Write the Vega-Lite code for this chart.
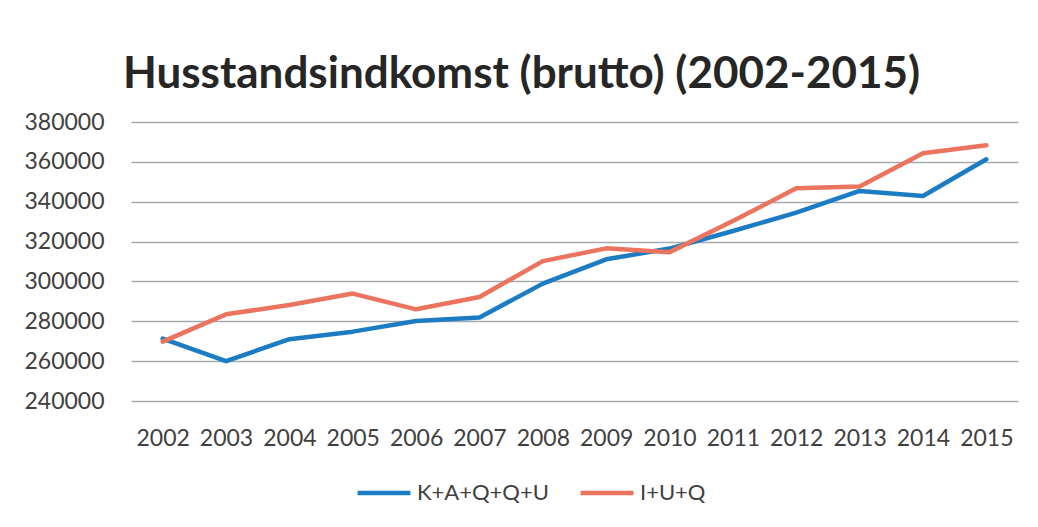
{
  "$schema": "https://vega.github.io/schema/vega-lite/v6.json",
  "width": 887,
  "height": 279,
  "autosize": {"type": "none"},
  "padding": {"left": 131, "top": 122, "right": 20, "bottom": 126},
  "background": "white",
  "title": {
    "text": "Husstandsindkomst (brutto) (2002-2015)",
    "font": "Lato",
    "fontSize": 44,
    "fontWeight": "bold",
    "color": "#262626",
    "anchor": "middle",
    "frame": "group",
    "dx": -53,
    "baseline": "bottom",
    "offset": 4,
    "dy": 34
  },
  "data": {
    "values": [
      {"year": "2002", "series": "K+A+Q+Q+U", "value": 271300},
      {"year": "2003", "series": "K+A+Q+Q+U", "value": 260000},
      {"year": "2004", "series": "K+A+Q+Q+U", "value": 271000},
      {"year": "2005", "series": "K+A+Q+Q+U", "value": 274800},
      {"year": "2006", "series": "K+A+Q+Q+U", "value": 280100},
      {"year": "2007", "series": "K+A+Q+Q+U", "value": 281900},
      {"year": "2008", "series": "K+A+Q+Q+U", "value": 298900},
      {"year": "2009", "series": "K+A+Q+Q+U", "value": 311100},
      {"year": "2010", "series": "K+A+Q+Q+U", "value": 316500},
      {"year": "2011", "series": "K+A+Q+Q+U", "value": 325300},
      {"year": "2012", "series": "K+A+Q+Q+U", "value": 334500},
      {"year": "2013", "series": "K+A+Q+Q+U", "value": 345400},
      {"year": "2014", "series": "K+A+Q+Q+U", "value": 342900},
      {"year": "2015", "series": "K+A+Q+Q+U", "value": 361300},
      {"year": "2002", "series": "I+U+Q", "value": 269800},
      {"year": "2003", "series": "I+U+Q", "value": 283500},
      {"year": "2004", "series": "I+U+Q", "value": 288200},
      {"year": "2005", "series": "I+U+Q", "value": 293900},
      {"year": "2006", "series": "I+U+Q", "value": 286000},
      {"year": "2007", "series": "I+U+Q", "value": 292200},
      {"year": "2008", "series": "I+U+Q", "value": 310200},
      {"year": "2009", "series": "I+U+Q", "value": 316600},
      {"year": "2010", "series": "I+U+Q", "value": 314700},
      {"year": "2011", "series": "I+U+Q", "value": 330300},
      {"year": "2012", "series": "I+U+Q", "value": 346700},
      {"year": "2013", "series": "I+U+Q", "value": 347600},
      {"year": "2014", "series": "I+U+Q", "value": 364300},
      {"year": "2015", "series": "I+U+Q", "value": 368300}
    ]
  },
  "mark": {"type": "line", "strokeWidth": 4.5, "strokeJoin": "round", "strokeCap": "round"},
  "encoding": {
    "x": {
      "field": "year",
      "type": "ordinal",
      "scale": {"type": "point", "padding": 0.5},
      "axis": {
        "title": null,
        "domain": false,
        "ticks": false,
        "grid": false,
        "labelAngle": 0,
        "labelFont": "Lato",
        "labelFontSize": 23,
        "labelColor": "#404040",
        "labelPadding": 26
      }
    },
    "y": {
      "field": "value",
      "type": "quantitative",
      "scale": {"domain": [240000, 380000], "nice": false, "zero": false},
      "axis": {
        "title": null,
        "domain": false,
        "ticks": false,
        "values": [240000, 260000, 280000, 300000, 320000, 340000, 360000, 380000],
        "format": "d",
        "labelFont": "Lato",
        "labelFontSize": 23,
        "labelColor": "#404040",
        "labelPadding": 27,
        "gridColor": "#a3abae",
        "gridWidth": 1.5
      }
    },
    "color": {
      "field": "series",
      "type": "nominal",
      "scale": {"domain": ["K+A+Q+Q+U", "I+U+Q"], "range": ["#1b7cc3", "#ea745e"]},
      "legend": {
        "title": null,
        "orient": "none",
        "direction": "horizontal",
        "legendX": 224,
        "legendY": 342,
        "padding": 0,
        "symbolType": "stroke",
        "symbolSize": 2800,
        "symbolStrokeWidth": 4.5,
        "labelFont": "Lato",
        "labelFontSize": 22,
        "labelColor": "#404040",
        "labelOffset": 4,
        "columnPadding": 22
      }
    }
  },
  "config": {"view": {"stroke": null}}
}
